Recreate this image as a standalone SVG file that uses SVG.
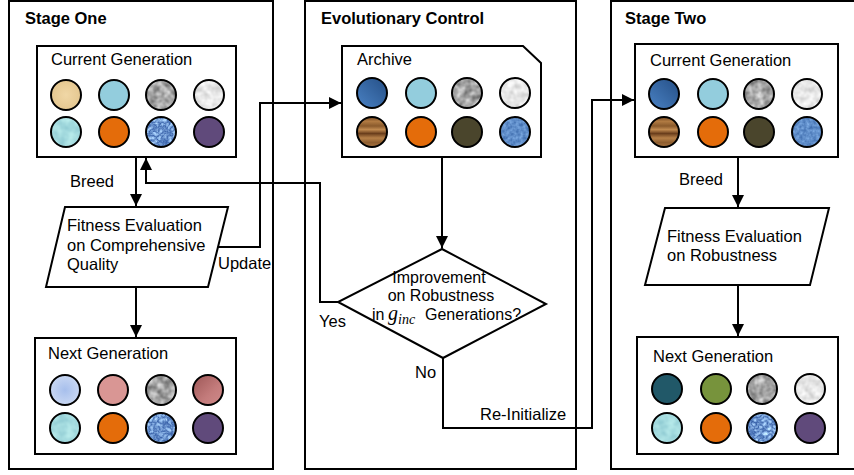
<svg xmlns="http://www.w3.org/2000/svg" width="854" height="475" viewBox="0 0 854 475">
<style>
text{font-family:"Liberation Sans",Arial,sans-serif;font-size:16.5px;fill:#000}
.title{font-weight:bold}
.panel{fill:#fff;stroke:#000;stroke-width:2}
.box{fill:#fff;stroke:#000;stroke-width:2}
.c{stroke:#000;stroke-width:2}
.ring{fill:none;stroke:#000;stroke-width:2}
.conn{fill:none;stroke:#000;stroke-width:2}
filter{color-interpolation-filters:sRGB}
</style>
<defs>
<marker id="arr" markerUnits="userSpaceOnUse" markerWidth="14" markerHeight="14" viewBox="0 0 14 14" refX="13" refY="7" orient="auto">
<path d="M1,1 L13,7 L1,13 Z" fill="#000"/>
</marker>
<radialGradient id="tan" cx="0.5" cy="0.5" r="0.6"><stop offset="0" stop-color="#f0d7a6"/><stop offset="1" stop-color="#e2c48c"/></radialGradient>
<radialGradient id="lav" cx="0.5" cy="0.5" r="0.6"><stop offset="0" stop-color="#a7bfec"/><stop offset="1" stop-color="#cfdcf4"/></radialGradient>
<linearGradient id="brose" x1="0" y1="0" x2="1" y2="1"><stop offset="0" stop-color="#9c5656"/><stop offset="0.6" stop-color="#c47c7c"/><stop offset="1" stop-color="#cf8a8a"/></linearGradient>
<linearGradient id="dblue" x1="1" y1="0" x2="0" y2="1"><stop offset="0" stop-color="#254f86"/><stop offset="1" stop-color="#4a82c4"/></linearGradient>
<linearGradient id="wood" x1="0" y1="0" x2="0" y2="1">
<stop offset="0" stop-color="#7a4a22"/><stop offset="0.15" stop-color="#b07a42"/><stop offset="0.3" stop-color="#8a5a2c"/><stop offset="0.42" stop-color="#c08a50"/><stop offset="0.55" stop-color="#6a3e1c"/><stop offset="0.7" stop-color="#b68048"/><stop offset="0.85" stop-color="#8e5e30"/><stop offset="1" stop-color="#a87440"/>
</linearGradient>
<filter id="gray" x="0" y="0" width="1" height="1" color-interpolation-filters="sRGB">
<feTurbulence type="fractalNoise" baseFrequency="0.14" numOctaves="2" seed="4"/>
<feColorMatrix type="matrix" values="0.7 0 0 0 0.3  0.7 0 0 0 0.3  0.7 0 0 0 0.3  0 0 0 0 1"/>
<feComposite operator="in" in2="SourceGraphic"/>
</filter>
<filter id="white" x="0" y="0" width="1" height="1" color-interpolation-filters="sRGB">
<feTurbulence type="fractalNoise" baseFrequency="0.14" numOctaves="2" seed="7"/>
<feColorMatrix type="matrix" values="0.3 0 0 0 0.76  0.3 0 0 0 0.76  0.3 0 0 0 0.76  0 0 0 0 1"/>
<feComposite operator="in" in2="SourceGraphic"/>
</filter>
<filter id="bluet" x="0" y="0" width="1" height="1" color-interpolation-filters="sRGB">
<feTurbulence type="turbulence" baseFrequency="0.22" numOctaves="2" seed="2"/>
<feColorMatrix type="matrix" values="0.8 0 0 0 0.22  0.8 0 0 0 0.38  0.6 0 0 0 0.66  0 0 0 0 1"/>
<feComposite operator="in" in2="SourceGraphic"/>
</filter>
<filter id="denim" x="0" y="0" width="1" height="1" color-interpolation-filters="sRGB">
<feTurbulence type="fractalNoise" baseFrequency="0.3" numOctaves="2" seed="9"/>
<feColorMatrix type="matrix" values="0.35 0 0 0 0.2  0.35 0 0 0 0.38  0.3 0 0 0 0.64  0 0 0 0 1"/>
<feComposite operator="in" in2="SourceGraphic"/>
</filter>
<filter id="cyan" x="0" y="0" width="1" height="1" color-interpolation-filters="sRGB">
<feTurbulence type="fractalNoise" baseFrequency="0.12" numOctaves="2" seed="5"/>
<feColorMatrix type="matrix" values="0.25 0 0 0 0.52  0.2 0 0 0 0.76  0.15 0 0 0 0.8  0 0 0 0 1"/>
<feComposite operator="in" in2="SourceGraphic"/>
</filter>
</defs>

<!-- panels -->
<g id="stage-one">
<rect class="panel" x="9" y="1" width="264" height="468"/>
<text class="title" x="25" y="24">Stage One</text>
</g>
<g id="evolutionary-control">
<rect class="panel" x="305" y="1" width="271" height="468"/>
<text class="title" x="321" y="24">Evolutionary Control</text>
</g>
<g id="stage-two">
<rect class="panel" x="611" y="1" width="250" height="468"/>
<text class="title" x="625" y="24">Stage Two</text>
</g>

<!-- connectors -->
<g id="connectors">
<path class="conn" d="M136,157 V206" marker-end="url(#arr)"/>
<path class="conn" d="M136,287 V337" marker-end="url(#arr)"/>
<path class="conn" d="M218,247 H260 V103 H341" marker-end="url(#arr)"/>
<path class="conn" d="M338,302 H320 V183 H146 V158" marker-end="url(#arr)"/>
<path class="conn" d="M442,157 V248" marker-end="url(#arr)"/>
<path class="conn" d="M443,358 V428 H592 V100 H634" marker-end="url(#arr)"/>
<path class="conn" d="M738,157 V207" marker-end="url(#arr)"/>
<path class="conn" d="M738,285 V336" marker-end="url(#arr)"/>
<text x="70" y="187">Breed</text>
<text x="218" y="269">Update</text>
<text x="319" y="327">Yes</text>
<text x="415" y="378">No</text>
<text x="480" y="420">Re-Initialize</text>
<text x="679" y="185">Breed</text>
</g>

<!-- Stage One current generation -->
<g id="s1-current">
<rect class="box" x="37" y="46" width="199" height="111"/>
<text x="51" y="65">Current Generation</text>
<circle class="c" cx="66" cy="95" r="15" fill="url(#tan)"/>
<circle class="c" cx="114" cy="95" r="15" fill="#93cddd"/>
<circle cx="161" cy="95" r="15" filter="url(#gray)"/><circle class="ring" cx="161" cy="95" r="15"/>
<circle cx="209" cy="95" r="15" filter="url(#white)"/><circle class="ring" cx="209" cy="95" r="15"/>
<circle cx="66" cy="132" r="15" filter="url(#cyan)"/><circle class="ring" cx="66" cy="132" r="15"/>
<circle class="c" cx="114" cy="132" r="15" fill="#e46c0a"/>
<circle cx="161" cy="132" r="15" filter="url(#bluet)"/><circle class="ring" cx="161" cy="132" r="15"/>
<circle class="c" cx="209" cy="132" r="15" fill="#604a7b"/>
</g>

<g id="s1-fitness">
<polygon class="box" points="65,207 228,207 208,287 46,287"/>
<text x="67" y="231">Fitness Evaluation</text>
<text x="67" y="251">on Comprehensive</text>
<text x="67" y="270">Quality</text>
</g>

<g id="s1-next">
<rect class="box" x="35" y="338" width="201" height="116"/>
<text x="48" y="359">Next Generation</text>
<circle class="c" cx="65" cy="390" r="15" fill="url(#lav)"/>
<circle class="c" cx="113" cy="390" r="15" fill="#d99694"/>
<circle cx="161" cy="390" r="15" filter="url(#gray)"/><circle class="ring" cx="161" cy="390" r="15"/>
<circle class="c" cx="208" cy="390" r="15" fill="url(#brose)"/>
<circle cx="65" cy="428" r="15" filter="url(#cyan)"/><circle class="ring" cx="65" cy="428" r="15"/>
<circle class="c" cx="113" cy="428" r="15" fill="#e46c0a"/>
<circle cx="161" cy="428" r="15" filter="url(#bluet)"/><circle class="ring" cx="161" cy="428" r="15"/>
<circle class="c" cx="208" cy="428" r="15" fill="#604a7b"/>
</g>

<g id="archive">
<polygon class="box" points="342,46 523,46 541,63 541,157 342,157"/>
<text x="357" y="65">Archive</text>
<circle class="c" cx="372" cy="93" r="15" fill="url(#dblue)"/>
<circle class="c" cx="421" cy="93" r="15" fill="#93cddd"/>
<circle cx="467" cy="93" r="15" filter="url(#gray)"/><circle class="ring" cx="467" cy="93" r="15"/>
<circle cx="515" cy="93" r="15" filter="url(#white)"/><circle class="ring" cx="515" cy="93" r="15"/>
<circle class="c" cx="372" cy="132" r="15" fill="url(#wood)"/>
<circle class="c" cx="421" cy="132" r="15" fill="#e46c0a"/>
<circle class="c" cx="467" cy="132" r="15" fill="#4a452c"/>
<circle cx="515" cy="132" r="15" filter="url(#denim)"/><circle class="ring" cx="515" cy="132" r="15"/>
</g>

<g id="decision">
<polygon class="box" points="442,249 546,304 443,358 338,302"/>
<text x="439" y="283" text-anchor="middle" style="font-size:16px">Improvement</text>
<text x="441" y="301" text-anchor="middle" style="font-size:16px">on Robustness</text>
<text x="372" y="320" style="font-size:16px">in</text>
<text x="388" y="320" style="font-family:'Liberation Serif',serif;font-style:italic;font-size:20px">g</text>
<text x="398" y="324" style="font-family:'Liberation Serif',serif;font-style:italic;font-size:14px">inc</text>
<text x="425" y="320" style="font-size:16px">Generations?</text>
</g>

<g id="s2-current">
<rect class="box" x="635" y="44" width="203" height="113"/>
<text x="650" y="66">Current Generation</text>
<circle class="c" cx="664" cy="94" r="15" fill="url(#dblue)"/>
<circle class="c" cx="713" cy="94" r="15" fill="#93cddd"/>
<circle cx="759" cy="94" r="15" filter="url(#gray)"/><circle class="ring" cx="759" cy="94" r="15"/>
<circle cx="807" cy="94" r="15" filter="url(#white)"/><circle class="ring" cx="807" cy="94" r="15"/>
<circle class="c" cx="664" cy="132" r="15" fill="url(#wood)"/>
<circle class="c" cx="713" cy="132" r="15" fill="#e46c0a"/>
<circle class="c" cx="759" cy="132" r="15" fill="#4a452c"/>
<circle cx="807" cy="132" r="15" filter="url(#denim)"/><circle class="ring" cx="807" cy="132" r="15"/>
</g>

<g id="s2-fitness">
<polygon class="box" points="665,208 829,208 810,285 645,285"/>
<text x="667" y="242">Fitness Evaluation</text>
<text x="667" y="261">on Robustness</text>
</g>

<g id="s2-next">
<rect class="box" x="637" y="337" width="201" height="117"/>
<text x="653" y="362">Next Generation</text>
<circle class="c" cx="667" cy="389" r="15" fill="#215868"/>
<circle class="c" cx="716" cy="389" r="15" fill="#77933c"/>
<circle cx="762" cy="389" r="15" filter="url(#gray)"/><circle class="ring" cx="762" cy="389" r="15"/>
<circle cx="810" cy="389" r="15" filter="url(#white)"/><circle class="ring" cx="810" cy="389" r="15"/>
<circle cx="667" cy="428" r="15" filter="url(#cyan)"/><circle class="ring" cx="667" cy="428" r="15"/>
<circle class="c" cx="716" cy="428" r="15" fill="#e46c0a"/>
<circle cx="762" cy="428" r="15" filter="url(#bluet)"/><circle class="ring" cx="762" cy="428" r="15"/>
<circle class="c" cx="810" cy="428" r="15" fill="#604a7b"/>
</g>
</svg>
